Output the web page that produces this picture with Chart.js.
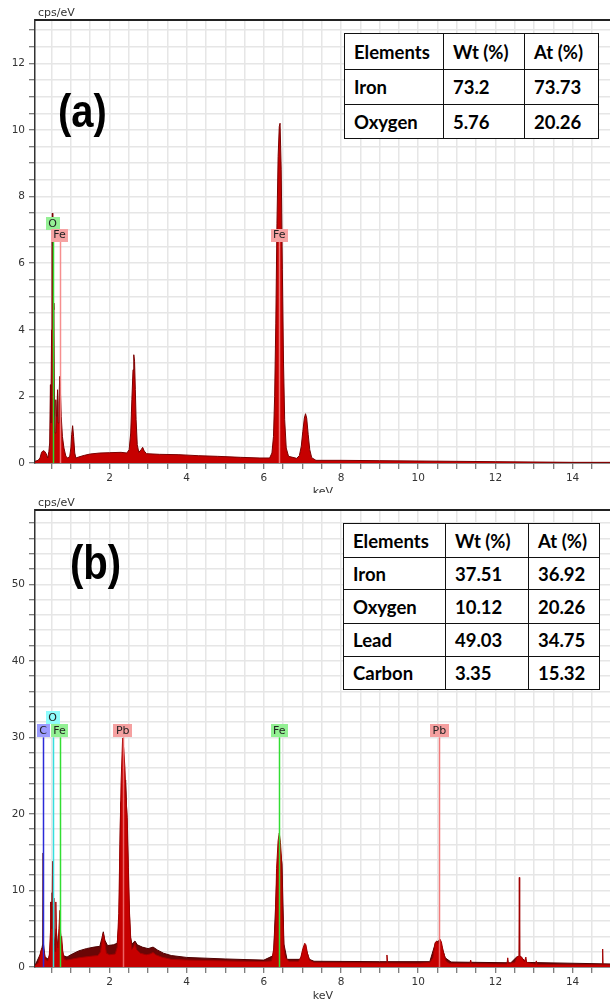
<!DOCTYPE html>
<html>
<head>
<meta charset="utf-8">
<script src="https://cdn.jsdelivr.net/npm/chart.js@4.4.1/dist/chart.umd.min.js"></script>
<style>
  body { margin: 0; background: #fff; }
  #wrap { position: relative; width: 610px; height: 1001px; overflow: hidden; }
  canvas { position: absolute; left: 0; }
  #cA { top: 0; }
  #cB { top: 493px; }
  .tag { position: absolute; font-family: "Liberation Sans", Arial, sans-serif; font-weight: bold;
         color: #000; line-height: 1; transform-origin: 0 0; white-space: nowrap; }
  table.res { position: absolute; border-collapse: collapse; table-layout: fixed; background: #fff;
              font-family: Lato, sans-serif; font-weight: 700; font-size: 18.5px; color: #000; }
  table.res td { border: 1.5px solid #111; padding: 0 0 0 9px; vertical-align: middle; white-space: nowrap; overflow: hidden; }
</style>
</head>
<body>
<div id="wrap">
  <canvas id="cA" width="610" height="493"></canvas>
  <canvas id="cB" width="610" height="508"></canvas>
  <div class="tag" id="tagA" style="left:58px;top:87px;font-size:47px;transform:scaleX(0.85)">(a)</div>
  <div class="tag" id="tagB" style="left:70px;top:539px;font-size:48px;transform:scaleX(0.835)">(b)</div>
  <table class="res" id="tabA" style="left:344px;top:33px;width:254px"></table>
  <table class="res" id="tabB" style="left:343px;top:523px;width:256px"></table>
</div>
<script>
// ---- spectrum (a), keV vs cps/eV
const keVA = [0.07,0.15,0.20,0.24,0.28,0.32,0.36,0.40,0.43,0.45,0.47,0.48,0.50,0.51,0.52,0.53,0.545,0.56,0.575,0.59,
  0.61,0.625,0.64,0.655,0.67,0.69,0.71,0.725,0.75,0.78,0.82,0.87,0.92,0.97,1.00,1.02,1.045,1.07,1.10,1.13,
  1.20,1.35,1.50,1.75,2.00,2.30,2.45,2.51,2.55,2.58,2.61,2.63,2.65,2.67,2.69,2.72,2.76,2.82,2.86,2.90,
  2.96,3.3,3.8,4.3,4.8,5.4,5.9,6.15,6.21,6.25,6.28,6.31,6.34,6.37,6.40,6.42,6.45,6.48,6.51,6.54,
  6.58,6.64,6.85,6.92,6.97,7.01,7.05,7.08,7.11,7.15,7.19,7.24,7.35,8.0,9.0,10.0,11.0,12.0,13.0,14.0,14.97];
const cpsA = [0.05,0.08,0.15,0.32,0.37,0.35,0.28,0.15,0.35,0.6,2.35,1.2,4.0,6.8,7.5,6.5,4.8,4.6,1.5,0.9,
  1.9,1.4,1.6,2.2,1.2,1.8,2.6,2.3,1.4,0.8,0.45,0.2,0.15,0.2,0.45,0.85,1.12,0.8,0.3,0.15,
  0.18,0.23,0.27,0.3,0.31,0.32,0.3,0.4,0.9,1.9,2.8,3.25,3.05,2.2,1.3,0.55,0.32,0.4,0.47,0.36,
  0.28,0.26,0.25,0.22,0.2,0.17,0.15,0.15,0.3,0.8,2.0,4.2,7.2,9.2,10.1,10.2,8.8,5.8,3.0,1.3,
  0.45,0.2,0.14,0.22,0.5,0.95,1.35,1.48,1.35,0.85,0.4,0.16,0.08,0.08,0.07,0.06,0.05,0.04,0.03,0.02,0.02];

// ---- spectrum (b), front (red) trace
const keVB = [0.07,0.15,0.20,0.24,0.27,0.30,0.34,0.40,0.44,0.47,0.49,0.51,0.525,0.54,0.56,0.59,0.61,0.63,0.66,0.69,
  0.715,0.74,0.76,0.79,0.83,0.88,1.0,1.2,1.5,1.7,1.77,1.81,1.84,1.87,1.92,2.0,2.15,2.20,2.24,2.27,
  2.30,2.34,2.37,2.40,2.43,2.46,2.49,2.52,2.55,2.58,2.63,2.66,2.70,2.80,2.95,3.05,3.13,3.2,3.35,3.6,
  4.0,4.5,5.0,5.5,6.0,6.2,6.26,6.30,6.33,6.37,6.40,6.43,6.46,6.49,6.52,6.56,6.65,6.9,6.96,7.01,
  7.06,7.09,7.13,7.18,7.3,8.0,9.0,9.17,9.19,9.21,10.0,10.3,10.38,10.44,10.48,10.52,10.56,10.60,10.65,10.72,
  10.8,11.34,11.36,11.38,12.0,12.3,12.32,12.34,12.5,12.56,12.61,12.62,12.63,12.68,12.75,12.79,12.81,13.04,13.06,13.08,
  14.0,14.77,14.78,14.79,14.97];
const cpsB = [0.2,0.5,1.5,2.4,2.2,2.0,1.0,0.8,1.5,4.5,8.5,5.0,13.8,9.0,3.0,2.0,8.5,3.5,2.5,5.0,
  7.4,3.5,4.0,2.0,1.0,0.9,1.0,1.2,1.4,1.5,2.0,3.6,4.4,3.6,1.8,1.6,1.7,2.6,7.0,16.0,
  24.0,29.9,28.5,26.0,22.0,19.5,13.0,7.0,3.8,2.3,2.7,3.1,2.3,1.8,1.6,1.7,1.9,1.6,1.3,1.0,
  0.9,0.85,0.8,0.75,0.72,0.8,2.5,6.0,12.9,16.5,17.5,16.3,14.0,7.0,2.5,1.2,0.75,0.75,1.3,2.4,
  3.1,2.9,1.8,0.9,0.6,0.56,0.53,0.53,1.57,0.53,0.5,0.6,1.2,3.2,3.4,3.0,3.65,3.3,2.0,0.8,
  0.5,0.45,0.9,0.45,0.4,0.4,1.2,0.45,0.6,1.3,1.45,11.7,1.45,1.3,0.7,1.3,0.6,0.35,0.8,0.35,
  0.3,0.3,2.35,0.3,0.28];

// ---- spectrum (b), dark trace behind
const keVBdark = [0.07,0.2,0.25,0.27,0.28,0.29,0.33,0.42,0.46,0.48,0.5,0.515,0.53,0.56,0.6,0.62,0.66,0.72,0.76,0.8,
  0.9,1.0,1.2,1.4,1.6,1.75,1.8,1.84,1.88,1.95,2.1,2.2,2.25,2.29,2.33,2.38,2.42,2.46,2.5,2.54,
  2.58,2.66,2.72,2.85,3.0,3.13,3.25,3.4,3.6,4.0,5.0,6.0,6.25,6.33,6.4,6.47,6.52,6.6,6.95,7.06,
  7.18,7.3,9.0,10.3,10.45,10.56,10.7,10.85,12.4,12.55,12.65,12.8,14.97];
const cpsBdark = [0.2,1.6,2.5,3.0,14.9,3.0,1.3,1.0,2.0,8.5,5.5,9.7,6.0,3.0,4.0,5.0,2.5,5.0,3.0,1.5,
  1.3,1.6,2.1,2.4,2.6,2.7,3.7,4.6,3.5,2.8,2.9,3.1,6.0,21.4,22.0,23.0,24.4,18.0,9.0,4.0,
  3.0,3.4,2.9,2.6,2.4,2.6,2.2,1.8,1.5,1.25,1.05,0.9,1.5,11.0,16.0,13.5,3.0,1.0,1.0,2.8,
  1.0,0.75,0.7,0.7,3.2,3.5,1.2,0.65,0.55,1.3,1.4,0.6,0.4];

// ---- element markers
const markNamesA = ["O", "Fe", "Fe"];
const markKeVA = [0.525, 0.705, 6.40];
const markTopA = [7.0, 6.65, 6.65];
const markRowA = [0, 0, 0];

const markNamesB = ["C", "O", "Fe", "Pb", "Fe", "Pb"];
const markKeVB = [0.277, 0.525, 0.705, 2.345, 6.40, 10.55];
const markTopB = [30, 30, 30, 30, 30, 30];
const markRowB = [0, 1, 0, 0, 0, 0];

// ---- quantification tables
const tableHead = ["Elements", "Wt (%)", "At (%)"];
const elemA = ["Iron", "Oxygen"];
const wtA = ["73.2", "5.76"];
const atA = ["73.73", "20.26"];
const elemB = ["Iron", "Oxygen", "Lead", "Carbon"];
const wtB = ["37.51", "10.12", "49.03", "3.35"];
const atB = ["36.92", "20.26", "34.75", "15.32"];

const X_MIN = 0.07, X_MAX = 14.97;

function buildTable(id, elems, wt, at, colW, rowH) {
  const t = document.getElementById(id);
  let html = "<colgroup>" + colW.map(w => `<col style="width:${w}px">`).join("") + "</colgroup>";
  const rows = [tableHead].concat(elems.map((e, i) => [e, wt[i], at[i]]));
  rows.forEach((r, i) => {
    html += `<tr style="height:${rowH[i]}px">` + r.map(c => `<td>${c}</td>`).join("") + "</tr>";
  });
  t.innerHTML = html;
}
buildTable("tabA", elemA, wtA, atA, [99, 81, 74], [36, 35, 34]);
buildTable("tabB", elemB, wtB, atB, [102, 83, 71], [34, 32, 34, 33, 33]);

function pts(xs, ys) {
  return xs.map((x, i) => ({ x: x, y: ys[i] }));
}

const overlay = {
  id: "overlay",
  afterDatasetsDraw(chart, args, o) {
    const { ctx, chartArea: a, scales: { x, y } } = chart;
    ctx.save();
    ctx.beginPath();
    ctx.rect(a.left, a.top, a.right - a.left, a.bottom - a.top);
    ctx.clip();
    o.names.forEach((n, i) => {
      const px = Math.round(x.getPixelForValue(o.keV[i])) + 0.5;
      ctx.strokeStyle = o.lineCol[n];
      ctx.lineWidth = 1.5;
      ctx.beginPath();
      ctx.moveTo(px, a.bottom);
      ctx.lineTo(px, y.getPixelForValue(o.top[i]));
      ctx.stroke();
    });
    ctx.font = '11px "DejaVu Sans"';
    ctx.textAlign = "center";
    ctx.textBaseline = "middle";
    o.names.forEach((n, i) => {
      const px = x.getPixelForValue(o.keV[i]);
      const bottom = y.getPixelForValue(o.top[i]) - o.row[i] * 13;
      const w = ctx.measureText(n).width + 5;
      ctx.fillStyle = o.boxCol[n];
      ctx.fillRect(Math.round(px - w / 2), Math.round(bottom - 13), Math.round(w), 13);
      ctx.fillStyle = "#222";
      ctx.fillText(n, px, bottom - 6);
    });
    ctx.restore();
  },
  afterDraw(chart) {
    const { ctx, chartArea: a } = chart;
    ctx.save();
    ctx.strokeStyle = "#222";
    ctx.lineWidth = 2;
    ctx.beginPath();
    ctx.moveTo(a.left, a.top);
    ctx.lineTo(a.right, a.top);
    ctx.stroke();
    ctx.fillStyle = "#333";
    ctx.font = '11px "DejaVu Sans"';
    ctx.textBaseline = "middle";
    ctx.textAlign = "left";
    ctx.fillText("cps/eV", a.left + 3, a.top - 7);
    ctx.textAlign = "center";
    ctx.fillText("keV", 323, a.bottom + 29);
    ctx.restore();
  }
};

function panel(id, sets, yMax, yStep, yLab, xH, padTop, marks) {
  return new Chart(document.getElementById(id), {
    type: "line",
    data: { datasets: sets },
    options: {
      responsive: false,
      animation: false,
      devicePixelRatio: 1,
      layout: { padding: { top: padTop, left: 0, right: 0, bottom: 0 } },
      plugins: { legend: { display: false }, tooltip: { enabled: false }, overlay: marks },
      elements: { point: { radius: 0 }, line: { tension: 0 } },
      scales: {
        x: {
          type: "linear", min: X_MIN, max: X_MAX,
          afterFit(s) { s.height = xH; },
          ticks: {
            stepSize: 0.5, autoSkip: false, maxRotation: 0, includeBounds: false, padding: 3,
            color: "#333", font: { family: "DejaVu Sans", size: 10.5 },
            callback: v => (Number.isInteger(v) && v % 2 === 0 && v > 0) ? String(v) : ""
          },
          grid: { color: "#e6e6e6", lineWidth: 1.5, tickLength: 6, tickColor: "#555", tickWidth: 1 },
          border: { color: "#333", width: 1.5 }
        },
        y: {
          min: 0, max: yMax,
          afterFit(s) { s.width = 35; },
          ticks: {
            stepSize: yStep, autoSkip: false, includeBounds: false, padding: 4,
            color: "#333", font: { family: "DejaVu Sans", size: 10.5 },
            callback: v => (Math.abs(v / yLab - Math.round(v / yLab)) < 1e-6) ? String(Math.round(v)) : ""
          },
          grid: { color: "#e6e6e6", lineWidth: 1.5, tickLength: 6, tickColor: "#555", tickWidth: 1 },
          border: { color: "#333", width: 1.5 }
        }
      }
    },
    plugins: [overlay]
  });
}

panel("cA", [
  { data: pts(keVA, cpsA), fill: "origin", backgroundColor: "#c60000", borderColor: "#7a0000", borderWidth: 1 }
], 13.3, 0.5, 2, 30, 20, {
  names: markNamesA, keV: markKeVA, top: markTopA, row: markRowA,
  lineCol: { O: "#2fd82f", Fe: "rgba(245,130,130,0.9)" },
  boxCol: { O: "#95f095", Fe: "#f5a3a3" }
});

panel("cB", [
  { data: pts(keVB, cpsB), fill: "origin", backgroundColor: "#c60000", borderColor: "#a00000", borderWidth: 1 },
  { data: pts(keVBdark, cpsBdark), fill: "origin", backgroundColor: "#6a0606", borderColor: "#500000", borderWidth: 1 }
], 59.7, 2, 10, 34, 17, {
  names: markNamesB, keV: markKeVB, top: markTopB, row: markRowB,
  lineCol: { C: "#2a2ad8", O: "#35dede", Fe: "#33dd33", Pb: "rgba(240,110,110,0.9)" },
  boxCol: { C: "#9c9cff", O: "#8ffcfc", Fe: "#93f093", Pb: "#f5a0a0" }
});
</script>
</body>
</html>
